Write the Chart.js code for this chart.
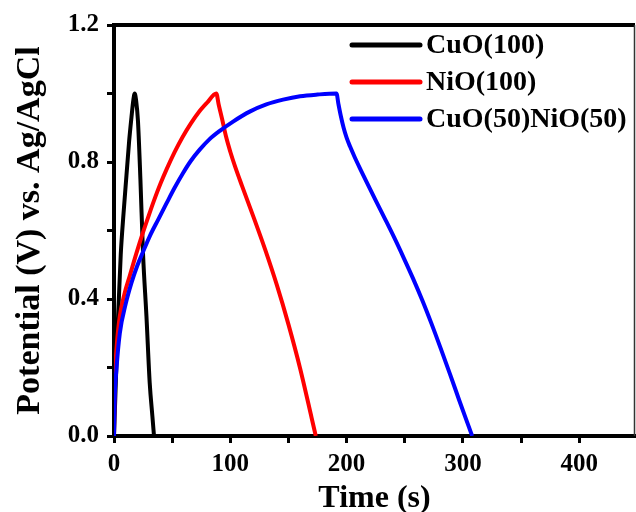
<!DOCTYPE html>
<html>
<head>
<meta charset="utf-8">
<script src="https://cdn.jsdelivr.net/npm/chart.js@4.4.1/dist/chart.umd.min.js"></script>
<style>
  html, body { margin: 0; padding: 0; background: #fff; }
  #gcd { display: block; }
</style>
</head>
<body>
<canvas id="gcd" width="636" height="512"></canvas>
<script>
// charge/discharge curves, time in s and potential in V
const seriesNames = ['CuO(100)', 'NiO(100)', 'CuO(50)NiO(50)'];
const seriesColors = ['rgb(0, 0, 0)', 'rgb(255, 0, 0)', 'rgb(0, 0, 255)'];

const cuoTime = [0, 1.5, 3.4, 5.8, 8.2, 10.7, 13, 15, 16.6, 17.8, 19, 20.6, 22.7, 25, 27.9, 30.7, 33, 34.4];
const cuoPotential = [0, 0.15, 0.34, 0.53, 0.65, 0.76, 0.86, 0.93, 0.98, 1.0, 0.98, 0.92, 0.75, 0.53, 0.35, 0.155, 0.058, 0];

const nioTime = [0, 0.4, 1, 2.5, 5, 9, 13.5, 19.3, 25, 30, 35, 40, 45, 52, 59, 66, 73, 80, 88,
    90, 93, 96.5, 100, 104, 110, 120, 130, 140, 150, 160, 170, 173.5];
const nioPotential = [0, 0.12, 0.19, 0.27, 0.35, 0.415, 0.467, 0.534, 0.595, 0.645, 0.693, 0.737, 0.777, 0.828, 0.873, 0.912, 0.946, 0.973, 1.0,
    0.968, 0.925, 0.872, 0.83, 0.788, 0.731, 0.639, 0.544, 0.441, 0.326, 0.198, 0.052, 0];

const mixTime = [0, 0.5, 2, 5, 10, 15, 20, 25, 30.7, 38, 45.1, 52, 59.4, 66, 73.7, 82, 91, 102.4, 116.7, 131, 145.4, 160, 175, 191.3,
    193, 195, 197.5, 200, 203, 207, 212, 218, 225, 233, 241, 249, 257, 265, 273, 281, 289, 297, 305, 308];
const mixPotential = [0, 0.1, 0.19, 0.3, 0.385, 0.447, 0.497, 0.538, 0.583, 0.632, 0.679, 0.724, 0.768, 0.803, 0.836, 0.866, 0.891, 0.918, 0.947, 0.968, 0.982, 0.992, 0.997, 1.0,
    0.969, 0.935, 0.899, 0.871, 0.845, 0.814, 0.778, 0.736, 0.688, 0.634, 0.579, 0.521, 0.461, 0.397, 0.328, 0.255, 0.18, 0.103, 0.028, 0];

const xTickLabels = [0, 100, 200, 300, 400];
const yTickLabels = ['0.0', '0.4', '0.8', '1.2'];

const fontFamily = "'Liberation Serif', 'Times New Roman', serif";

function toPoints(times, values) {
    return times.map((t, i) => ({ x: t, y: values[i] }));
}

// top frame line plus the thin right edge
const framePlugin = {
    id: 'frame',
    afterDraw(chart) {
        const { ctx, chartArea } = chart;
        ctx.save();
        ctx.strokeStyle = '#000';
        ctx.lineWidth = 4;
        ctx.beginPath();
        ctx.moveTo(chartArea.left - 2, chartArea.top);
        ctx.lineTo(chartArea.right, chartArea.top);
        ctx.stroke();
        ctx.lineWidth = 1.5;
        ctx.strokeStyle = '#333';
        ctx.beginPath();
        ctx.moveTo(chartArea.right - 0.5, chartArea.top);
        ctx.lineTo(chartArea.right - 0.5, chartArea.bottom);
        ctx.stroke();
        ctx.restore();
    }
};

// legend sits inside the plot, top right
const insideLegend = {
    id: 'insideLegend',
    afterDraw(chart) {
        const { ctx, chartArea } = chart;
        const x0 = chartArea.left + 238;
        let y = chartArea.top + 20;
        ctx.save();
        ctx.font = "bold 28px " + fontFamily;
        ctx.textBaseline = 'middle';
        ctx.fillStyle = '#000';
        chart.data.datasets.forEach(ds => {
            ctx.strokeStyle = ds.borderColor;
            ctx.lineWidth = 5;
            ctx.lineCap = 'round';
            ctx.beginPath();
            ctx.moveTo(x0, y);
            ctx.lineTo(x0 + 68, y);
            ctx.stroke();
            ctx.fillText(ds.label, x0 + 74, y + 1);
            y += 37;
        });
        ctx.restore();
    }
};

const seriesData = [
    toPoints(cuoTime, cuoPotential),
    toPoints(nioTime, nioPotential),
    toPoints(mixTime, mixPotential)
];

const config = {
    type: 'line',
    data: {
        datasets: seriesNames.map((name, i) => ({
            label: name,
            data: seriesData[i],
            borderColor: seriesColors[i],
            borderWidth: 4,
            pointRadius: 0,
            cubicInterpolationMode: 'monotone',
            order: 3 - i
        }))
    },
    options: {
        responsive: false,
        animation: false,
        layout: { padding: { top: 25, right: 1, left: 0, bottom: 0 } },
        plugins: {
            legend: { display: false },
            tooltip: { enabled: false }
        },
        scales: {
            x: {
                type: 'linear',
                min: 0,
                max: 448,
                afterFit(scale) { scale.height = 76; },
                afterBuildTicks(scale) {
                    const ticks = [];
                    for (let v = 0; v <= 400; v += 50) ticks.push({ value: v });
                    scale.ticks = ticks;
                },
                ticks: {
                    autoSkip: false,
                    maxRotation: 0,
                    color: '#000',
                    padding: 7,
                    font: { family: fontFamily, size: 25, weight: 'bold' },
                    callback: v => xTickLabels.includes(Math.round(v)) ? String(Math.round(v)) : ''
                },
                grid: { drawOnChartArea: false, tickLength: 7, tickWidth: 3, tickColor: '#000' },
                border: { width: 4, color: '#000' },
                title: {
                    display: true,
                    text: 'Time (s)',
                    color: '#000',
                    padding: { top: 0, bottom: 0 },
                    font: { family: fontFamily, size: 32, weight: 'bold', lineHeight: 0.8 }
                }
            },
            y: {
                min: 0,
                max: 1.2,
                afterFit(scale) { scale.width = 114; },
                ticks: {
                    stepSize: 0.2,
                    autoSkip: false,
                    color: '#000',
                    padding: 8,
                    font: { family: fontFamily, size: 25, weight: 'bold' },
                    callback: v => yTickLabels.includes(v.toFixed(1)) ? v.toFixed(1) : ''
                },
                grid: { drawOnChartArea: false, tickLength: 7, tickWidth: 3, tickColor: '#000' },
                border: { width: 4, color: '#000' },
                title: {
                    display: true,
                    text: 'Potential (V) vs. Ag/AgCl',
                    color: '#000',
                    padding: { top: 10, bottom: 0 },
                    font: { family: fontFamily, size: 34, weight: 'bold' }
                }
            }
        }
    },
    plugins: [framePlugin, insideLegend]
};

new Chart(document.getElementById('gcd'), config);
</script>
</body>
</html>
